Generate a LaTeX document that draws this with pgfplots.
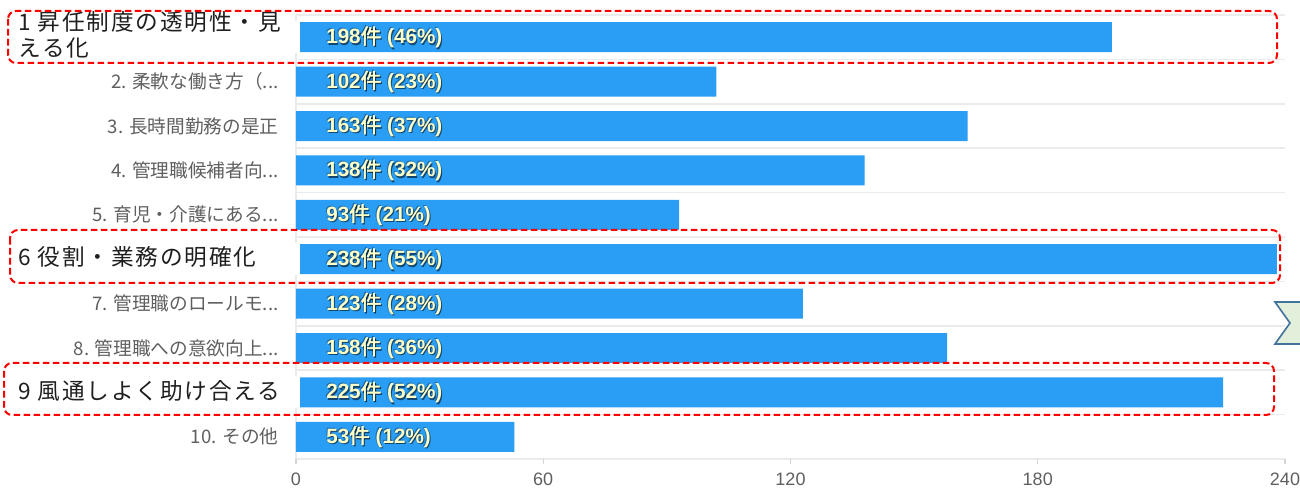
\documentclass[border=0pt]{standalone}
\usepackage{pgfplots}
\pgfplotsset{compat=1.18}
\usepackage{fontspec}
\setmainfont{Liberation Sans}
\newfontfamily\cjk{Noto Sans CJK JP}
\newfontfamily\cjkb[FakeBold=2]{Noto Sans CJK JP}
\newfontfamily\hlfont[LetterSpace=8]{Noto Sans CJK JP}
\definecolor{barblue}{HTML}{2A9DF4}
\definecolor{labgray}{HTML}{5F5F5F}
\definecolor{gridgray}{HTML}{EBEBEB}
\definecolor{txtyellow}{HTML}{FFFFC8}
\definecolor{hlred}{HTML}{FF0000}
\definecolor{chevfill}{HTML}{E2EFDA}
\definecolor{chevdraw}{HTML}{41719C}
\newcommand\dd{.\kern0pt.\kern0pt.}
\newcommand\bl[2]{\fontsize{15.5pt}{15.5pt}\selectfont{\bfseries #1}{\cjkb 件}{\bfseries\ (#2\%)}}
\newcommand\barlabel[3]{%
\node[anchor=west,inner sep=0pt,text=black,text opacity=0.55] at ([xshift=23.3pt,yshift=-1pt]axis cs:0,#1) {\bl{#2}{#3}};%
\node[anchor=west,inner sep=0pt,text=black,text opacity=0.3] at ([xshift=21.8pt,yshift=0.7pt]axis cs:0,#1) {\bl{#2}{#3}};%
\node[anchor=west,inner sep=0pt,text=txtyellow] at ([xshift=22.5pt]axis cs:0,#1) {\bl{#2}{#3}};%
}
\begin{document}
\begin{tikzpicture}
\path[use as bounding box] (0,0) rectangle (975pt,369pt);
\begin{axis}[
  at={(222pt,24.75pt)}, anchor=south west,
  scale only axis, width=741.75pt, height=333pt,
  xbar, bar width=22.5pt,
  xmin=0, xmax=240, ymin=0.5, ymax=10.5, y dir=reverse,
  xtick={0,60,120,180,240},
  ytick={1,2,3,4,5,6,7,8,9,10},
  yticklabels={,{2. 柔軟な働き方（\dd},{3. 長時間勤務の是正},{4. 管理職候補者向\dd},{5. 育児・介護にある\dd},,{7. 管理職のロールモ\dd},{8. 管理職への意欲向上\dd},,{10. その他}},
  minor ytick={0.5,1.5,2.5,3.5,4.5,5.5,6.5,7.5,8.5,9.5,10.5},
  yminorgrids=true,
  minor grid style={gridgray, line width=1.1pt},
  minor tick length=0pt,
  axis line style={draw=none},
  xtick pos=left, ytick pos=left,
  tick align=outside,
  major tick length=4pt,
  xtick style={gridgray!80!gray, line width=0.8pt},
  ytick style={draw=none},
  /pgf/number format/assume math mode=true,
  xticklabel style={font=\fontsize{13.5pt}{13.5pt}\selectfont, text=labgray, yshift=-3pt},
  yticklabel style={font=\cjk\fontsize{14pt}{14pt}\selectfont, text=labgray, anchor=east, inner sep=0pt, xshift=-9pt},
  clip=false,
]
\draw[gridgray, line width=1.1pt] (axis cs:0,0.5) -- (axis cs:0,10.5);
\addplot[fill=barblue, draw=none] coordinates {(198,1) (102,2) (163,3) (138,4) (93,5) (238,6) (123,7) (158,8) (225,9) (53,10)};
\barlabel{1}{198}{46}
\barlabel{2}{102}{23}
\barlabel{3}{163}{37}
\barlabel{4}{138}{32}
\barlabel{5}{93}{21}
\barlabel{6}{238}{55}
\barlabel{7}{123}{28}
\barlabel{8}{158}{36}
\barlabel{9}{225}{52}
\barlabel{10}{53}{12}
\end{axis}
\begin{scope}[x=0.75pt, y=-0.75pt, shift={(0pt,369pt)}]
  \fill[white] (293,21) rectangle (300,53);
  \fill[white] (293,243) rectangle (300,275);
  \fill[white] (293,376) rectangle (300,408);
  \node[anchor=west, inner sep=0pt, text=black!88] at (18,22) {\hlfont\fontsize{17pt}{17pt}\selectfont 1 昇任制度の透明性・見};
  \node[anchor=west, inner sep=0pt, text=black!88] at (18,48) {\hlfont\fontsize{17pt}{17pt}\selectfont える化};
  \node[anchor=west, inner sep=0pt, text=black!88] at (18,257) {\hlfont\fontsize{17pt}{17pt}\selectfont 6 役割・業務の明確化};
  \node[anchor=west, inner sep=0pt, text=black!88] at (18,391) {\hlfont\fontsize{17pt}{17pt}\selectfont 9 風通しよく助け合える};
  \draw[hlred, line width=1.5pt, dash pattern=on 5pt off 2.5pt, rounded corners=6pt] (8,11) rectangle (1277,63);
  \draw[hlred, line width=1.5pt, dash pattern=on 5pt off 2.5pt, rounded corners=6pt] (10,230) rectangle (1280,283);
  \draw[hlred, line width=1.5pt, dash pattern=on 5pt off 2.5pt, rounded corners=6pt] (4,363) rectangle (1274,415);
  \draw[chevdraw, fill=chevfill, line width=1.2pt] (1275,302) -- (1315,302) -- (1315,344) -- (1275,344) -- (1290,323) -- cycle;
\end{scope}
\end{tikzpicture}
\end{document}
